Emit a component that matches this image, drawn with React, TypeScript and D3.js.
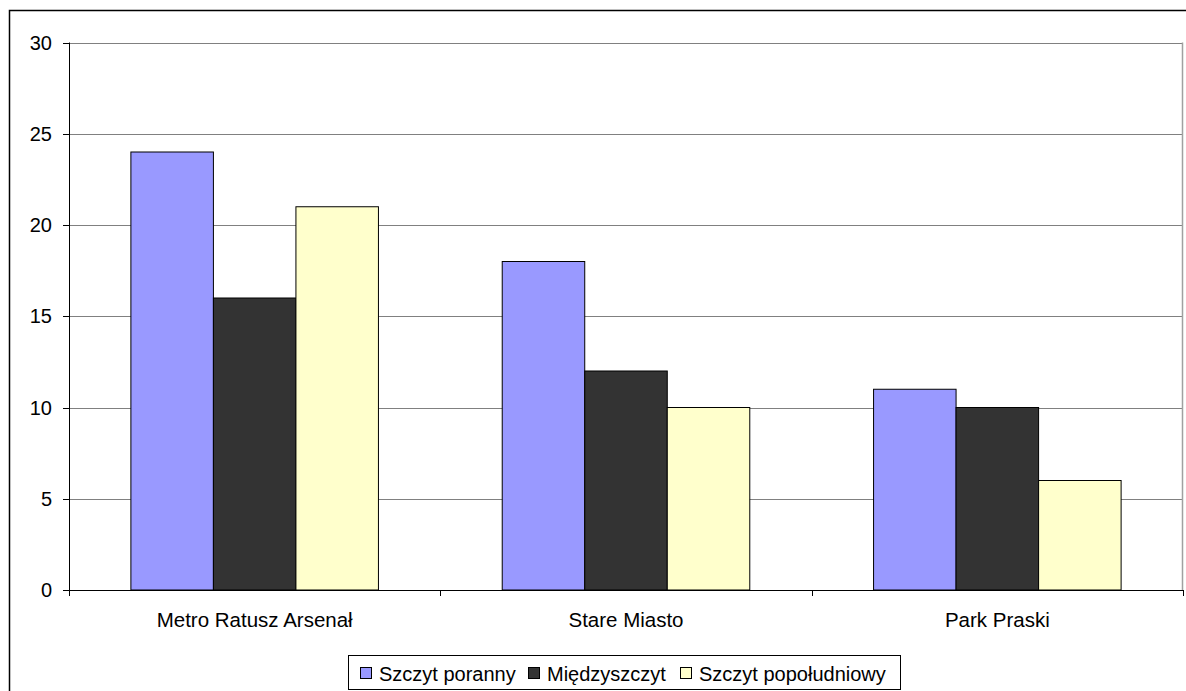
import React from "react";
import * as d3 from "d3";

const categories = ["Metro Ratusz Arsenał", "Stare Miasto", "Park Praski"];
const seriesNames = ["Szczyt poranny", "Międzyszczyt", "Szczyt popołudniowy"];
const seriesColors = ["#9999FF", "#333333", "#FFFFCC"];
const morningPeak = [24, 18, 11];
const midPeak = [16, 12, 10];
const afternoonPeak = [21, 10, 6];
const yTicks = [0, 5, 10, 15, 20, 25, 30];

const W = 1186;
const H = 691;
const plot = { left: 69, right: 1183, top: 42.5, bottom: 590 };
const font = "'Liberation Sans', Arial, sans-serif";

export default function App() {
  const series = [morningPeak, midPeak, afternoonPeak];

  const x = d3.scaleBand<string>().domain(categories).range([plot.left, plot.right]);
  // 150% gap between groups: each bar gets band / (3 + 1.5)
  const barW = x.bandwidth() / 4.5;
  const y = d3.scaleLinear().domain([0, 30]).range([plot.bottom, plot.top]);

  const legendItems = [
    { sq: 360, tx: 379 },
    { sq: 528, tx: 547 },
    { sq: 680, tx: 699 },
  ];

  return (
    <svg
      width={W}
      height={H}
      style={{ position: "absolute", left: 0, top: 0, background: "#fff" }}
      fontFamily={font}
    >
      <rect x={9.5} y={10.5} width={W + 20} height={H + 20} fill="#fff" stroke="#000" strokeWidth={1.5} />

      {/* horizontal gridlines */}
      {yTicks.slice(1).map((t) => (
        <line key={t} x1={plot.left} x2={plot.right} y1={Math.round(y(t)) + 0.5} y2={Math.round(y(t)) + 0.5} stroke="#808080" strokeWidth={1} />
      ))}
      <line x1={plot.right - 0.5} x2={plot.right - 0.5} y1={plot.top} y2={plot.bottom} stroke="#a0a0a0" strokeWidth={1.5} />

      {/* bars */}
      {categories.map((c, ci) => {
        const gx = (x(c) as number) + x.bandwidth() / 2 - (barW * 3) / 2;
        return series.map((s, si) => (
          <rect
            key={c + si}
            x={gx + si * barW}
            y={y(s[ci])}
            width={barW}
            height={y(0) - y(s[ci])}
            fill={seriesColors[si]}
            stroke="#000"
            strokeWidth={1}
          />
        ));
      })}

      {/* y axis */}
      <line x1={plot.left + 0.5} x2={plot.left + 0.5} y1={plot.top} y2={plot.bottom + 6} stroke="#000" strokeWidth={1} />
      {yTicks.map((t) => (
        <g key={t}>
          <line x1={plot.left - 6} x2={plot.left} y1={Math.round(y(t)) + 0.5} y2={Math.round(y(t)) + 0.5} stroke="#000" />
          <text x={52} y={y(t) + 7} textAnchor="end" fontSize={20} fill="#000">
            {t}
          </text>
        </g>
      ))}

      {/* x axis */}
      <line x1={plot.left} x2={plot.right} y1={Math.round(y(0)) + 0.5} y2={Math.round(y(0)) + 0.5} stroke="#000" strokeWidth={1} />
      {categories.map((c, i) => (
        <line key={"t" + i} x1={Math.round((x(c) as number) + x.bandwidth()) + 0.5} x2={Math.round((x(c) as number) + x.bandwidth()) + 0.5} y1={plot.bottom} y2={plot.bottom + 6} stroke="#000" />
      ))}
      {categories.map((c) => (
        <text key={c} x={(x(c) as number) + x.bandwidth() / 2} y={627} textAnchor="middle" fontSize={20.5} fill="#000">
          {c}
        </text>
      ))}

      {/* legend */}
      <rect x={348.5} y={655.5} width={552} height={34} fill="#fff" stroke="#000" strokeWidth={1} />
      {seriesNames.map((n, i) => (
        <g key={n}>
          <rect x={legendItems[i].sq + 0.5} y={667.5} width={11} height={11} fill={seriesColors[i]} stroke="#000" strokeWidth={1} />
          <text x={legendItems[i].tx} y={681} fontSize={20} fill="#000">
            {n}
          </text>
        </g>
      ))}
    </svg>
  );
}
